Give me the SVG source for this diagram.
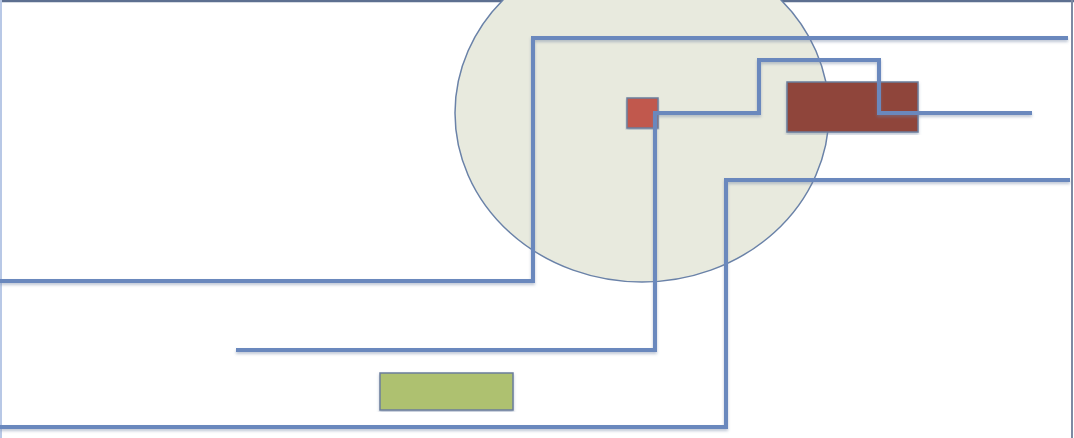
<svg xmlns="http://www.w3.org/2000/svg" width="1074" height="438" viewBox="0 0 1074 438">
<defs>
<filter id="sh" x="-5%" y="-5%" width="110%" height="110%"><feDropShadow dx="0" dy="2" stdDeviation="1.5" flood-color="#7080a0" flood-opacity="0.45"/></filter>
</defs>
<style>
.ln{fill:none;stroke:#6a88bd;stroke-width:4;stroke-linejoin:miter;filter:url(#sh)}
.box{stroke:#6b7d9c;stroke-width:1.5;filter:url(#sh)}
</style>
<rect width="1074" height="438" fill="#ffffff"/>
<g id="frame">
<line x1="0" y1="1" x2="1074" y2="1" stroke="#5d6f90" stroke-width="2.5"/>
<line x1="1" y1="0" x2="1" y2="438" stroke="#b8c8e6" stroke-width="2"/>
<line x1="1072" y1="0" x2="1072" y2="438" stroke="#7d8aa3" stroke-width="2"/>
</g>
<g id="circle"><ellipse cx="642" cy="113" rx="187" ry="169" fill="#e8eade" stroke="#6a82a8" stroke-width="1.5"/></g>
<g id="darkbox"><rect class="box" x="787" y="82" width="131" height="50" fill="#8f443b"/></g>
<g id="smallbox"><rect class="box" x="627" y="98" width="31" height="30" fill="#c1594e"/></g>
<g id="greenbox"><rect class="box" x="380" y="373" width="133" height="37" fill="#aec16f"/></g>
<g id="connectors">
<path class="ln" d="M0 281 H533 V38 H1068"/>
<path class="ln" d="M236 350 H655 V113 H759 V60 H879 V113 H1032"/>
<path class="ln" d="M0 427 H726 V180 H1070"/>
</g>
</svg>
